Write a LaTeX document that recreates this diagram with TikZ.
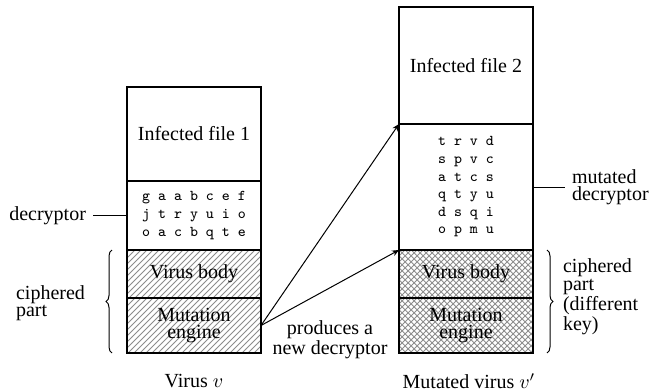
\documentclass[tikz,border=0pt]{standalone}
\usepackage{fontspec}
\setmainfont{Liberation Serif}
\usepackage{tikz}
\usetikzlibrary{arrows.meta,positioning,patterns,decorations.pathreplacing}
\definecolor{hatchgray}{HTML}{8C8C8C}
\tikzset{every node/.append style={font=\rmfamily\fontsize{10}{8.6}\selectfont},
  part/.style={draw,line width=.6pt,minimum width=67pt,inner sep=0pt,outer sep=0pt,align=center},
  code/.style={part,font=\ttfamily\fontsize{7.5}{8.8}\selectfont},
  oldkey/.style={part,pattern=north east lines,pattern color=hatchgray},
  newkey/.style={part,pattern=crosshatch,pattern color=hatchgray},
  brace/.style={decorate,decoration={brace,amplitude=3pt},line width=.5pt}}

\begin{document}
\begin{tikzpicture}[>={Stealth[length=3.5pt,width=3pt]},x=.5pt,y=-.5pt]
\useasboundingbox (0,0) rectangle (660,391);
% virus v
\node[part,minimum height=47pt,anchor=north] (if1) at (194,87) {Infected file 1};
\node[code,minimum height=34.5pt,below=0pt of if1] (dec1) {g a a b c e f\\j t r y u i o\\o a c b q t e};
\node[oldkey,minimum height=24pt,below=0pt of dec1] (vb1) {Virus body};
\node[oldkey,minimum height=27.5pt,below=0pt of vb1] (me1) {Mutation\\engine};
% mutated virus v'
\node[part,minimum height=58.5pt,anchor=north] (if2) at (466,7) {Infected file 2};
\node[code,minimum height=63pt,below=0pt of if2] (dec2) {t r v d\\s p v c\\a t c s\\q t y u\\d s q i\\o p m u};
\node[newkey,minimum height=24pt,below=0pt of dec2] (vb2) {Virus body};
\node[newkey,minimum height=27.5pt,below=0pt of vb2] (me2) {Mutation\\engine};
% labels
\node[left=17pt of dec1] (declbl) {decryptor};
\draw[line width=.5pt] (declbl) -- (dec1);
\node[right=16pt of dec2,align=left] (mutlbl) {mutated\\decryptor};
\draw[line width=.5pt] (dec2) -- (mutlbl);
\draw[brace] ([xshift=-7.5pt]me1.south west) -- ([xshift=-7.5pt]vb1.north west);
\node[anchor=east,align=left] (ciph1) at (92,303) {ciphered\\part};
\draw[brace] ([xshift=7pt]vb2.north east) -- ([xshift=7pt]me2.south east);
\node[anchor=west,align=left] (ciph2) at (556,297) {ciphered\\part\\(different\\key)};
% mutation
\draw[->,line width=.5pt] (me1.east) -- (dec2.north west);
\draw[->,line width=.5pt] (me1.east) -- (vb2.north west);
\node[align=center] (prod) at (330,340) {produces a\\new decryptor};
\node (cap1) at (194,381) {Virus $v$};
\node (cap2) at (469,381) {Mutated virus $v'$};
\end{tikzpicture}
\end{document}
